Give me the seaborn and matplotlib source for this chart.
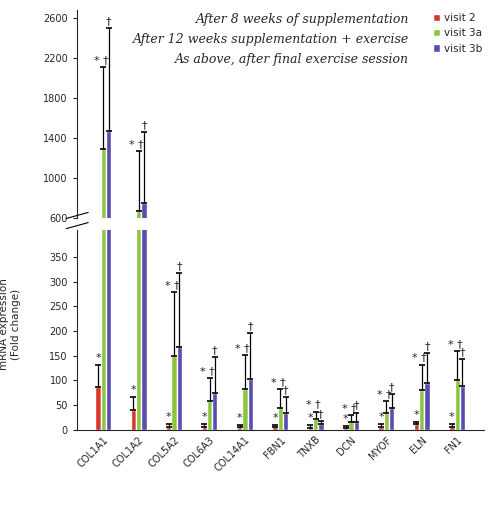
import matplotlib
matplotlib.use("Agg")
import matplotlib.pyplot as plt
import seaborn as sns
import pandas as pd
import numpy as np

genes = ["COL1A1","COL1A2","COL5A2","COL6A3","COL14A1","FBN1","TNXB","DCN","MYOF","ELN","FN1"]
visit2 = [86, 40, 6, 6, 5, 5, 4, 4, 6, 12, 6]
visit3a = [1290, 670, 150, 58, 82, 45, 23, 17, 35, 80, 100]
visit3b = [1470, 750, 168, 74, 103, 34, 12, 17, 45, 95, 88]
err2 = [132, 66, 13, 12, 10, 10, 9, 8, 12, 17, 11]
err3a = [2110, 1270, 278, 105, 152, 83, 37, 30, 59, 132, 159]
err3b = [2500, 1460, 318, 148, 196, 66, 18, 35, 73, 155, 143]
series = ["visit 2", "visit 3a", "visit 3b"]
colors = ["#d8362c", "#8cc43e", "#5a4db0"]
marks = ["*", "* \u2020", "\u2020"]

rows = []
for i, g in enumerate(genes):
    for s, v in zip(series, [visit2[i], visit3a[i], visit3b[i]]):
        rows.append({"gene": g, "visit": s, "value": v})
df = pd.DataFrame(rows)
errs = {"visit 2": err2, "visit 3a": err3a, "visit 3b": err3b}

sns.set_style("white")
fig = plt.figure(figsize=(4.9, 5.07), dpi=100)
axu = fig.add_axes([0.157, 0.57, 0.83, 0.41])
axl = fig.add_axes([0.157, 0.152, 0.83, 0.395])

bars = {}
for ax in (axu, axl):
    sns.barplot(data=df, x="gene", y="value", hue="visit", palette=colors,
                ax=ax, width=0.45, saturation=1, legend=(ax is axu))
    conts = list(ax.containers)[:3]
    bars[ax] = conts
    for k, cont in enumerate(conts):
        s = series[k]
        for j, p in enumerate(cont):
            x = p.get_x() + p.get_width() / 2
            h = p.get_height()
            e = errs[s][j]
            ax.errorbar(x, h, yerr=[[0], [e - h]], fmt="none", ecolor="black",
                        elinewidth=0.9, capsize=2.5, capthick=1.2)
    ax.set_xlabel("")
    ax.set_ylabel("")
    for sp in ["top", "right"]:
        ax.spines[sp].set_visible(False)
    ax.tick_params(axis="y", labelsize=7, length=3, left=True)

axu.set_ylim(600, 2680)
axu.set_yticks([600, 1000, 1400, 1800, 2200, 2600])
axl.set_ylim(0, 405)
axl.set_yticks([0, 50, 100, 150, 200, 250, 300, 350])
axu.set_xticks([])
axu.spines["bottom"].set_visible(False)
axl.tick_params(axis="x", labelsize=7, rotation=45, length=0)
for lbl in axl.get_xticklabels():
    lbl.set_ha("right"); lbl.set_rotation_mode("anchor")

# significance marks
for ax, (lo, hi) in ((axu, (600, 2680)), (axl, (0, 405))):
    for k, cont in enumerate(bars[ax]):
        s = series[k]
        for j, p in enumerate(cont):
            e = errs[s][j]
            if lo < e < hi:
                x = p.get_x() + p.get_width() / 2
                off = 0 if k != 1 else -p.get_width() * 0.4
                ax.text(x + off, e + (hi - lo) * 0.01, marks[k], ha="center",
                        va="bottom", fontsize=8)

# break marks
for y in (0.575, 0.555):
    fig.add_artist(plt.Line2D([0.135, 0.18], [y - 0.006, y + 0.006], color="black", lw=0.8))

fig.text(0.02, 0.36, "mRNA expression\n(Fold change)", rotation=90, ha="center",
         va="center", fontsize=7.5)

leg = axu.legend(loc="upper right", bbox_to_anchor=(1.02, 1.03), frameon=False,
                 fontsize=7.5, handlelength=0.7, handletextpad=0.4, labelspacing=0.5)
descs = ["After 8 weeks of supplementation",
         "After 12 weeks supplementation + exercise",
         "As above, after final exercise session"]
for i, d in enumerate(descs):
    fig.text(0.835, 0.962 - i * 0.04, d, ha="right", va="center", fontsize=9,
             style="italic", family="DejaVu Serif")

fig.savefig("out.png", dpi=100)
